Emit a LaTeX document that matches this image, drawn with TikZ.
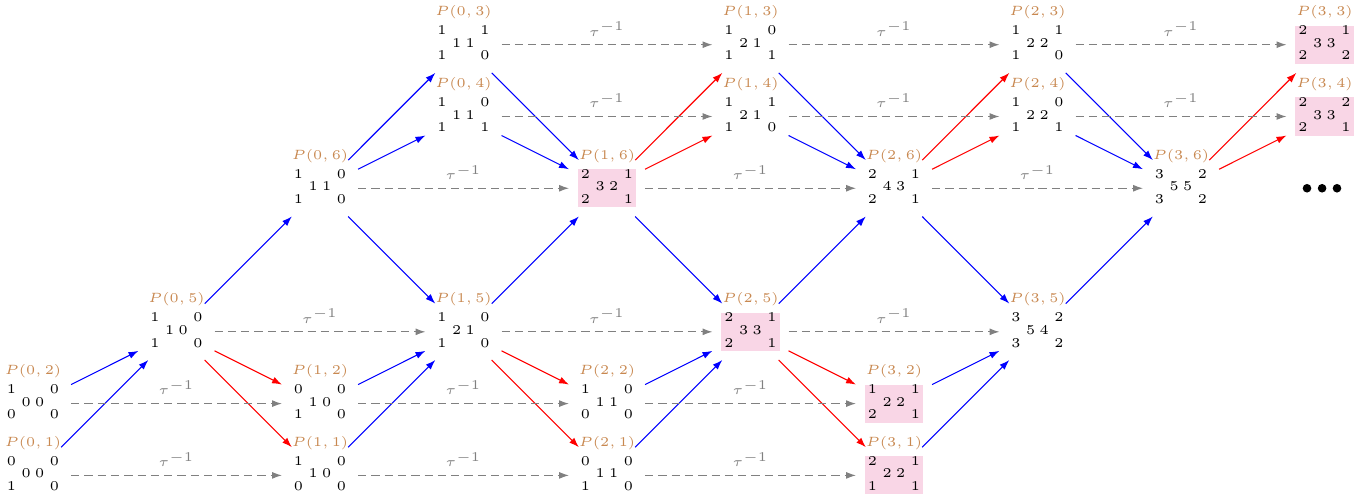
\documentclass[tikz,border=0pt]{standalone}
\usetikzlibrary{arrows.meta}
\definecolor{arpink}{RGB}{249,214,230}
\definecolor{lblbrown}{RGB}{200,136,80}
% dimension vector: a b on top, c d in the middle, e f below
\newcommand{\dimv}[6]{{\renewcommand{\arraystretch}{0.775}%
\begin{tabular}{@{}c@{\hspace{2.1pt}}c@{\hspace{1.6pt}}c@{\hspace{2.1pt}}c@{}}#1&&&#2\\&#3&#4&\\#5&&&#6\end{tabular}}}
\tikzset{
  dimnode/.style={inner xsep=1.25pt,inner ysep=0pt,outer xsep=3.2pt,outer ysep=3.4pt},
  hlnode/.style={dimnode,fill=arpink},
  plbl/.style={text=lblbrown,inner sep=0pt},
  bluearr/.style={blue,-{Latex[length=3.7pt,width=2.6pt]}},
  redarr/.style={red,-{Latex[length=3.7pt,width=2.6pt]}},
  tauarr/.style={gray,dash pattern=on 3.1pt off 1.85pt,-{Latex[length=3.7pt,width=2.6pt]}}
}
\begin{document}
\begin{tikzpicture}[x=1.877cm,y=0.9389cm,font=\tiny]
\useasboundingbox (-0.23,-0.341) rectangle (9.317,6.623);
\foreach \i/\j/\x/\y/\a/\b/\c/\d/\e/\f in {0/1/0/0/0/0/0/0/1/0, 0/2/0/1/1/0/0/0/0/0, 0/5/1/2/1/0/1/0/1/0,
  0/6/2/4/1/0/1/1/1/0, 0/3/3/6/1/1/1/1/1/0, 0/4/3/5/1/0/1/1/1/1, 1/1/2/0/1/0/1/0/0/0,
  1/2/2/1/0/0/1/0/1/0, 1/5/3/2/1/0/2/1/1/0, 1/3/5/6/1/0/2/1/1/1, 1/4/5/5/1/1/2/1/1/0,
  2/1/4/0/0/0/1/1/1/0, 2/2/4/1/1/0/1/1/0/0, 2/6/6/4/2/1/4/3/2/1, 2/3/7/6/1/1/2/2/1/0,
  2/4/7/5/1/0/2/2/1/1, 3/5/7/2/3/2/5/4/3/2, 3/6/8/4/3/2/5/5/3/2}
  \node[dimnode,label={[plbl,label distance=-1.2pt]above:$P(\i,\j)$}] (p\i\j) at (\x,\y) {\dimv{\a}{\b}{\c}{\d}{\e}{\f}};
\foreach \i/\j/\x/\y/\a/\b/\c/\d/\e/\f in {1/6/4/4/2/1/3/2/2/1, 2/5/5/2/2/1/3/3/2/1, 3/1/6/0/2/1/2/2/1/1,
  3/2/6/1/1/1/2/2/2/1, 3/3/9/6/2/1/3/3/2/2, 3/4/9/5/2/2/3/3/2/1}
  \node[hlnode,label={[plbl,label distance=-1.2pt]above:$P(\i,\j)$}] (p\i\j) at (\x,\y) {\dimv{\a}{\b}{\c}{\d}{\e}{\f}};
% continues to the right
\foreach \x in {8.878,8.983,9.087} \fill (\x,4) circle (1.6pt);
% irreducible maps
\foreach \s/\t in {p02/p05,p01/p05,p05/p06,p06/p03,p06/p04,p06/p15,p12/p15,p11/p15,
  p03/p16,p04/p16,p15/p16,p16/p25,p22/p25,p21/p25,p13/p26,p14/p26,p25/p26,
  p26/p35,p32/p35,p31/p35,p23/p36,p24/p36,p35/p36}
  \draw[bluearr] (\s) -- (\t);
\foreach \s/\t in {p05/p12,p05/p11,p15/p22,p15/p21,p16/p13,p16/p14,
  p25/p32,p25/p31,p26/p23,p26/p24,p36/p33,p36/p34}
  \draw[redarr] (\s) -- (\t);
% inverse Auslander-Reiten translate
\foreach \s/\t in {p03/p13,p13/p23,p23/p33,p04/p14,p14/p24,p24/p34,p06/p16,p16/p26,p26/p36,
  p05/p15,p15/p25,p25/p35,p02/p12,p12/p22,p22/p32,p01/p11,p11/p21,p21/p31}
  \draw[tauarr] (\s) -- node[above=-0.3pt,gray] {$\tau^{-1}$} (\t);
\end{tikzpicture}
\end{document}
